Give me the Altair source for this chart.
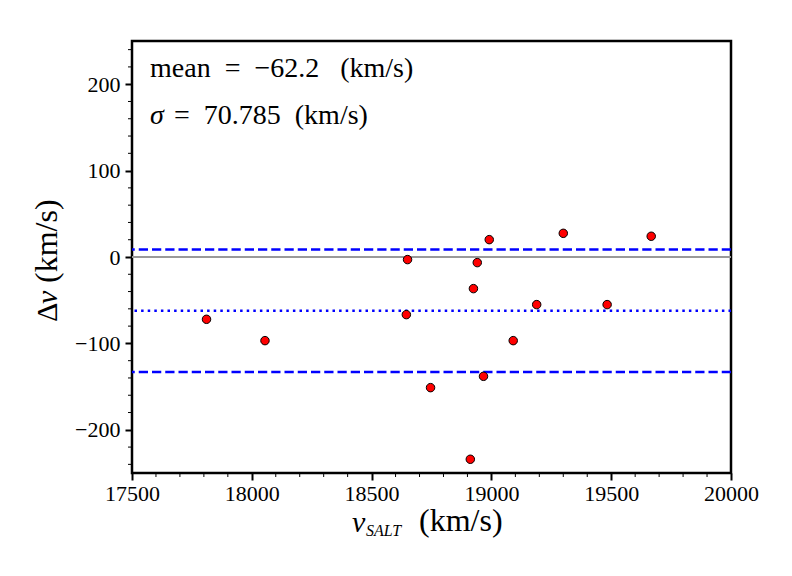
import altair as alt
import pandas as pd

# ---- data ----
v_salt = [17811, 18055, 18650, 18645, 18746, 18912, 18925, 18941, 18991,
          18967, 19091, 19189, 19300, 19483, 19667]
delta_v = [-72.1, -96.8, -3.0, -66.7, -151.2, -234.1, -36.6, -6.5, 20.1,
           -138.1, -96.8, -55.1, 27.4, -55.1, 24.0]
mean_val = -62.2
sigma_val = 70.785
x_ticks = [17500, 18000, 18500, 19000, 19500, 20000]
y_ticks = [-200, -100, 0, 100, 200]
x_minor = [17600, 17700, 17800, 17900, 18100, 18200, 18300, 18400,
           18600, 18700, 18800, 18900, 19100, 19200, 19300, 19400,
           19600, 19700, 19800, 19900]
y_minor = [-240, -220, -180, -160, -140, -120, -80, -60, -40, -20,
           20, 40, 60, 80, 120, 140, 160, 180, 220, 240]
NB = "\u00a0"
line1 = f"mean{NB}{NB}={NB}{NB}\u221262.2{NB}{NB}{NB}(km/s)"
line2_sym = "\u03c3"
line2_rest = f"={NB}{NB}70.785{NB}{NB}(km/s)"

FONT = "Liberation Serif, Times New Roman, DejaVu Serif, serif"
W, H = 599, 432

xs = alt.Scale(domain=[17500, 20000], nice=False, zero=False)
ys = alt.Scale(domain=[-250, 250], nice=False, zero=False)

pts = pd.DataFrame({"v": v_salt, "dv": delta_v})

x_axis = alt.Axis(values=x_ticks, format="d", title=None, grid=False, domain=False,
                  tickSize=7, tickWidth=2, tickColor="black", labelFont=FONT,
                  labelFontSize=22, labelColor="black", labelPadding=3,
                  labelFlush=False, labelOverlap=False)
y_axis = alt.Axis(values=y_ticks, format="d", title=None, grid=False, domain=False,
                  tickSize=7, tickWidth=2, tickColor="black", labelFont=FONT,
                  labelFontSize=22, labelColor="black", labelPadding=5,
                  labelFlush=False, labelOverlap=False)

points = alt.Chart(pts).mark_circle(color="red", stroke="black", strokeWidth=1,
                                    size=72, opacity=1).encode(
    x=alt.X("v:Q", scale=xs, axis=x_axis),
    y=alt.Y("dv:Q", scale=ys, axis=y_axis),
)

zero_line = alt.Chart(pd.DataFrame({"y": [0]})).mark_rule(
    color="#999999", strokeWidth=2).encode(y=alt.Y("y:Q", scale=ys, axis=y_axis))

dash_lines = alt.Chart(pd.DataFrame({"y": [mean_val + sigma_val, mean_val - sigma_val]})).mark_rule(
    color="#0000ff", strokeWidth=2.5, strokeDash=[9.25, 4]).encode(
    y=alt.Y("y:Q", scale=ys, axis=y_axis))

mean_line = alt.Chart(pd.DataFrame({"y": [mean_val]})).mark_rule(
    color="#0000ff", strokeWidth=2.5, strokeDash=[2.5, 4.1]).encode(
    y=alt.Y("y:Q", scale=ys, axis=y_axis))

y_minor_ticks = alt.Chart(pd.DataFrame({"y": y_minor})).mark_rule(
    color="black", strokeWidth=1).encode(
    y=alt.Y("y:Q", scale=ys, axis=y_axis), x=alt.value(-4), x2=alt.value(0))

x_minor_ticks = alt.Chart(pd.DataFrame({"x": x_minor})).mark_rule(
    color="black", strokeWidth=1).encode(
    x=alt.X("x:Q", scale=xs, axis=x_axis), y=alt.value(H), y2=alt.value(H + 4))


def label(txt, x, y, size, italic=False, angle=0):
    kw = dict(align="left", baseline="alphabetic", font=FONT, fontSize=size,
              color="black")
    if italic:
        kw["fontStyle"] = "italic"
    if angle:
        kw["angle"] = angle
    return alt.Chart(pd.DataFrame({"t": [txt]})).mark_text(**kw).encode(
        text="t:N", x=alt.value(x), y=alt.value(y))


texts = [
    label(line1, 18, 36, 28),
    label(line2_sym, 18, 83, 28, italic=True),
    label(line2_rest, 42, 83, 28),
    # x axis title: v_SALT (km/s)
    label("v", 220, 491, 30, italic=True),
    label("SALT", 234, 495, 16, italic=True),
    label("(km/s)", 287, 490, 32),
    # y axis title: Δv (km/s)
    label("\u0394", -75, 281, 30, angle=270),
    label("v", -75, 263, 30, italic=True, angle=270),
    label("(km/s)", -75, 242, 32, angle=270),
]

chart = alt.layer(zero_line, dash_lines, mean_line, y_minor_ticks, x_minor_ticks,
                  points, *texts).properties(
    width=W, height=H,
    autosize=alt.AutoSizeParams(type="none"),
    padding={"left": 124, "top": 33, "right": 53, "bottom": 95},
    background="white",
).configure_view(stroke="black", strokeWidth=2.5)

chart.save("out.html", embed_options={"renderer": "svg", "actions": False})
